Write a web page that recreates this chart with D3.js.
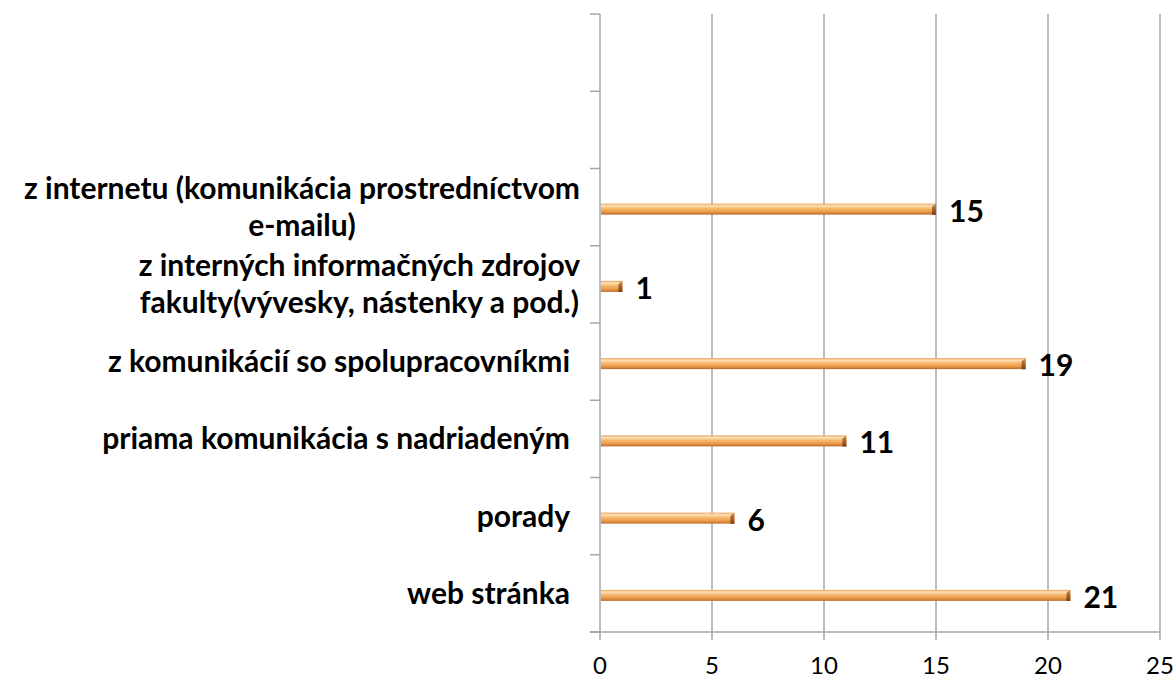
<!DOCTYPE html>
<html>
<head>
<meta charset="utf-8">
<script src="https://cdn.jsdelivr.net/npm/d3@7"></script>
<style>
  body { margin: 0; background: #fff; }
  text { font-family: Lato, "Open Sans", sans-serif; }
</style>
</head>
<body>
<div id="chart"></div>
<script>
(function() {

    // categories from bottom to top, each label split in lines
    var categories = [
        ["web stránka"],
        ["porady"],
        ["priama komunikácia s nadriadeným"],
        ["z komunikácií so spolupracovníkmi"],
        ["z interných informačných zdrojov", "fakulty(vývesky, nástenky a pod.)"],
        ["z internetu (komunikácia prostredníctvom", "e-mailu)"]
    ];
    var values = [21, 6, 11, 19, 1, 15];
    var emptySlots = 2;   // the chart keeps two blank rows on top
    var xTicks = [0, 5, 10, 15, 20, 25];

    var margin = {top: 14, left: 600, right: 16, bottom: 48},
        width = 1176 - margin.left - margin.right,
        height = 680 - margin.top - margin.bottom;

    var svg = d3.select("#chart")
        .append("svg")
        .attr("width", width + margin.left + margin.right)
        .attr("height", height + margin.top + margin.bottom)
        .append("g")
        .attr("transform", "translate(" + margin.left + "," + margin.top + ")");

    var rows = categories.map(function(c, i) { return {key: "c" + i, lines: c, value: values[i]}; });
    var domain = rows.map(function(d) { return d.key; });
    for (var i = 0; i < emptySlots; i++) domain.push("empty" + i);
    domain.reverse();

    var x = d3.scaleLinear().domain([0, 25]).range([0, width]);
    var y = d3.scaleBand().domain(domain).range([0, height]);

    var defs = svg.append("defs");
    var grad = defs.append("linearGradient")
        .attr("id", "barGrad").attr("x1", 0).attr("y1", 0).attr("x2", 0).attr("y2", 1);
    grad.append("stop").attr("offset", "0%").attr("stop-color", "#e9a35c");
    grad.append("stop").attr("offset", "20%").attr("stop-color", "#fde2b8");
    grad.append("stop").attr("offset", "45%").attr("stop-color", "#f7b86c");
    grad.append("stop").attr("offset", "75%").attr("stop-color", "#eb9a48");
    grad.append("stop").attr("offset", "100%").attr("stop-color", "#b86a2e");

    var capGrad = defs.append("linearGradient")
        .attr("id", "capGrad").attr("x1", 0).attr("y1", 0).attr("x2", 0).attr("y2", 1);
    capGrad.append("stop").attr("offset", "0%").attr("stop-color", "#d08a45");
    capGrad.append("stop").attr("offset", "100%").attr("stop-color", "#7a4015");

    // gridlines
    svg.selectAll(".grid")
        .data(xTicks.slice(1))
        .enter().append("line")
        .attr("class", "grid")
        .attr("x1", function(d) { return x(d); })
        .attr("x2", function(d) { return x(d); })
        .attr("y1", 0).attr("y2", height + 8)
        .attr("stroke", "#a6a6a6").attr("stroke-width", 1.5);

    // axes
    svg.append("line")
        .attr("x1", -10).attr("x2", width).attr("y1", height).attr("y2", height)
        .attr("stroke", "#a6a6a6").attr("stroke-width", 1.5);
    svg.append("line")
        .attr("x1", 0).attr("x2", 0).attr("y1", 0).attr("y2", height + 8)
        .attr("stroke", "#a6a6a6").attr("stroke-width", 1.5);

    svg.selectAll(".xlab")
        .data(xTicks)
        .enter().append("text")
        .attr("class", "xlab")
        .attr("x", function(d) { return x(d); })
        .attr("y", height + 42)
        .attr("text-anchor", "middle")
        .style("font-size", "24px")
        .attr("fill", "#000")
        .text(function(d) { return d; });

    // y axis ticks (between rows)
    var yTickPos = d3.range(domain.length + 1).map(function(i) { return i * y.step(); });
    svg.selectAll(".ytick")
        .data(yTickPos)
        .enter().append("line")
        .attr("class", "ytick")
        .attr("x1", -10).attr("x2", 0)
        .attr("y1", function(d) { return d; })
        .attr("y2", function(d) { return d; })
        .attr("stroke", "#a6a6a6").attr("stroke-width", 1.5);

    // bars
    var barH = 11;
    var bars = svg.selectAll(".bar")
        .data(rows)
        .enter().append("g")
        .attr("class", "bar")
        .attr("transform", function(d) { return "translate(0," + (y(d.key) + y.bandwidth() / 2 + 2 - barH / 2) + ")"; });

    bars.append("rect")
        .attr("x", 1)
        .attr("width", function(d) { return x(d.value) - 1; })
        .attr("height", barH)
        .attr("fill", "url(#barGrad)");

    bars.append("path")
        .attr("d", function(d) {
            var e = x(d.value);
            return "M" + (e - 4) + ",3L" + e + ",0L" + e + "," + barH + "L" + (e - 4) + "," + barH + "Z";
        })
        .attr("fill", "url(#capGrad)");

    bars.append("text")
        .attr("x", function(d) { return x(d.value) + 13; })
        .attr("y", barH / 2 + 2)
        .attr("dy", "0.35em")
        .style("font-size", "30px")
        .style("font-weight", "bold")
        .attr("fill", "#000")
        .text(function(d) { return d.value; });

    // category labels, multi-line ones centred on their widest line
    var lineH = 37;
    var labels = svg.selectAll(".cat")
        .data(rows)
        .enter().append("text")
        .attr("class", "cat")
        .style("font-size", "30px")
        .style("font-weight", "bold")
        .attr("fill", "#000");

    labels.each(function(d) {
        var t = d3.select(this);
        var n = d.lines.length;
        var cy = y(d.key) + y.bandwidth() / 2;
        t.selectAll("tspan")
            .data(d.lines)
            .enter().append("tspan")
            .attr("y", function(l, j) { return cy + (j - (n - 1) / 2) * lineH; })
            .attr("dy", "0.35em")
            .text(function(l) { return l; });
    });

    labels.each(function(d) {
        var t = d3.select(this);
        var spans = t.selectAll("tspan");
        var widths = spans.nodes().map(function(n) { return n.getComputedTextLength(); });
        var maxW = d3.max(widths);
        var right = d.lines.length > 1 ? -20 : -30;
        var center = right - maxW / 2;
        spans.attr("x", center).attr("text-anchor", "middle");
    });

})();
</script>
</body>
</html>
